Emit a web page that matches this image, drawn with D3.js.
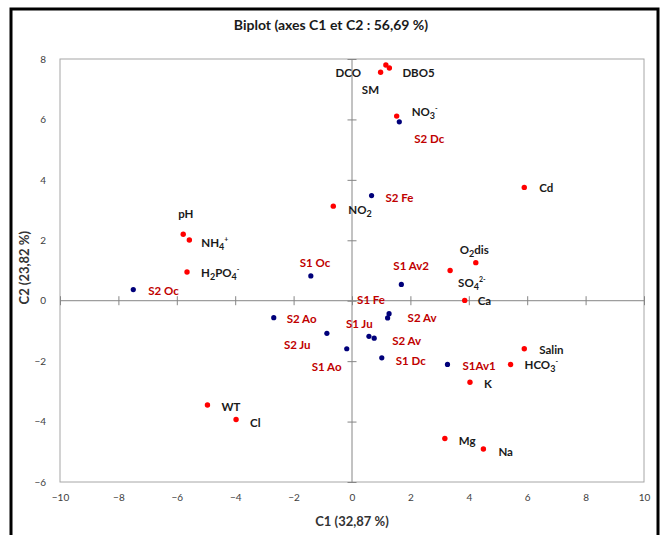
<!DOCTYPE html>
<html>
<head>
<meta charset="utf-8">
<script src="https://cdn.jsdelivr.net/npm/d3@7"></script>
<style>
  body { margin: 0; background: #fff; }
  text { font-family: Lato, "Open Sans", sans-serif; }
</style>
</head>
<body>
<div id="chart"></div>
<script>
// variables (red points)
let varNames = ["DCO", "DBO5", "SM", "NO_{3}^{-}", "NO_{2}", "pH", "NH_{4}^{+}", "H_{2}PO_{4}^{-}",
                "Cd", "O_{2}dis", "SO_{4}^{2-}", "Ca", "Salin", "HCO_{3}^{-}", "K", "Mg", "Na", "WT", "Cl"]
let varC1 = [0.98, 1.28, 1.16, 1.53, -0.64, -5.78, -5.57, -5.65, 5.90, 4.24, 3.36, 3.86, 5.90, 5.43, 4.04, 3.18, 4.50, -4.95, -3.97]
let varC2 = [7.56, 7.70, 7.80, 6.11, 3.13, 2.20, 2.01, 0.95, 3.75, 1.26, 1.00, 0.01, -1.59, -2.11, -2.70, -4.56, -4.91, -3.45, -3.93]

// observations (blue points)
let obsNames = ["S2 Dc", "S2 Fe", "S1 Av2", "S1 Fe", "S2 Oc", "S1 Oc", "S2 Ao", "S2 Ju", "S1 Ao",
                "S1 Ju", "S2 Av", "S2 Av", "S1 Dc", "S1Av1"]
let obsC1 = [1.62, 0.67, 1.69, 1.27, -7.49, -1.41, -2.68, -0.86, -0.18, 0.58, 1.22, 0.76, 1.02, 3.27]
let obsC2 = [5.92, 3.48, 0.54, -0.43, 0.37, 0.82, -0.56, -1.08, -1.59, -1.18, -0.57, -1.24, -1.89, -2.11]

let xTicks = d3.range(-10, 11, 2)
let yTicks = d3.range(-6, 9, 2)

// label offsets (px) from their point, like dragged labels in the sheet
let varLabelOffset = [[-45, 1], [13, 5], [-24, 25], [15, -4], [15, 4], [-5, -20], [12, 3], [14, 1],
                      [15, 1], [-16, -13], [8, 12], [13, 1], [15, 1], [14, 1], [14, 2], [14, 3], [15, 3], [14, 2], [14, 4]]
let obsLabelOffset = [[15, 17], [14, 2], [-8, -18], [-32, -14], [15, 1], [-11, -13], [13, 1], [-43, 12],
                      [-35, 18], [-23, -12], [20, 0], [18, 3], [14, 3], [15, 2]]

let W = 662, H = 535
let margin = {top: 59, right: 18, bottom: 53, left: 60}
let plotW = 644 - margin.left,
    plotH = 482 - margin.top

let svg = d3.select("#chart")
  .append("svg")
    .attr("width", W)
    .attr("height", H)

// outer chart frame
svg.append("rect")
  .attr("x", 11).attr("y", 9)
  .attr("width", 647).attr("height", 560)
  .attr("fill", "none")
  .attr("stroke", "#000")
  .attr("stroke-width", 3)

svg.append("text")
  .attr("x", 331).attr("y", 30)
  .attr("text-anchor", "middle")
  .style("font-size", "14px")
  .style("font-weight", "bold")
  .attr("fill", "#1a1a1a")
  .text("Biplot (axes C1 et C2 : 56,69 %)")

let g = svg.append("g")
  .attr("transform", "translate(" + margin.left + "," + margin.top + ")")

let x = d3.scaleLinear().domain([-10, 10]).range([0, plotW])
let y = d3.scaleLinear().domain([-6, 8]).range([plotH, 0])

// plot area border
g.append("rect")
  .attr("width", plotW).attr("height", plotH)
  .attr("fill", "none")
  .attr("stroke", "#a6a6a6")
  .attr("stroke-width", 1)

// tick labels on the outside (low position)
g.append("g")
  .attr("transform", "translate(0," + plotH + ")")
  .call(d3.axisBottom(x).tickValues(xTicks).tickSize(0).tickPadding(12))
  .call(a => a.select(".domain").remove())
  .selectAll("text")
    .style("font-size", "10px")
    .style("font-family", "Lato, sans-serif")
    .attr("fill", "#404040")

g.append("g")
  .call(d3.axisLeft(y).tickValues(yTicks).tickSize(0).tickPadding(14))
  .call(a => a.select(".domain").remove())
  .selectAll("text")
    .style("font-size", "10px")
    .style("font-family", "Lato, sans-serif")
    .attr("fill", "#404040")

// zero axes with crossing ticks
g.append("line")
  .attr("x1", x(0)).attr("x2", x(0))
  .attr("y1", 0).attr("y2", plotH)
  .attr("stroke", "#868686")
g.append("line")
  .attr("x1", 0).attr("x2", plotW)
  .attr("y1", y(0)).attr("y2", y(0))
  .attr("stroke", "#868686")

g.append("g")
  .attr("transform", "translate(" + (x(0) + 4.5) + ",0)")
  .call(d3.axisLeft(y).tickValues(yTicks).tickSize(9).tickFormat(""))
  .call(a => a.select(".domain").remove())
  .selectAll("line").attr("stroke", "#868686")

g.append("g")
  .attr("transform", "translate(0," + (y(0) - 4.5) + ")")
  .call(d3.axisBottom(x).tickValues(xTicks).tickSize(9).tickFormat(""))
  .call(a => a.select(".domain").remove())
  .selectAll("line").attr("stroke", "#868686")

// axis titles
svg.append("text")
  .attr("x", margin.left + x(0)).attr("y", 526)
  .attr("text-anchor", "middle")
  .style("font-size", "13px")
  .style("font-weight", "bold")
  .attr("fill", "#333")
  .text("C1 (32,87 %)")

svg.append("text")
  .attr("transform", "translate(29," + (margin.top + y(0) - 33) + ") rotate(-90)")
  .attr("text-anchor", "middle")
  .style("font-size", "13px")
  .style("font-weight", "bold")
  .attr("fill", "#333")
  .text("C2 (23,82 %)")

// write a label with _{sub} and ^{sup} parts
function richText(sel, str) {
  let re = /([_^])\{([^}]*)\}/g, last = 0, shift = 0, m
  while ((m = re.exec(str))) {
    if (m.index > last) {
      sel.append("tspan").attr("dy", -shift).text(str.slice(last, m.index))
      shift = 0
    }
    let target = m[1] == "_" ? 3 : -5
    sel.append("tspan")
      .attr("dy", target - shift)
      .style("font-size", m[1] == "_" ? "9px" : "7px")
      .text(m[2])
    shift = target
    last = re.lastIndex
  }
  if (last < str.length) {
    sel.append("tspan").attr("dy", -shift).text(str.slice(last))
  }
}

let vars = varNames.map((n, i) => ({name: n, c1: varC1[i], c2: varC2[i], off: varLabelOffset[i]}))
let obs = obsNames.map((n, i) => ({name: n, c1: obsC1[i], c2: obsC2[i], off: obsLabelOffset[i]}))

g.selectAll(".obs")
  .data(obs)
  .enter()
  .append("circle")
    .attr("class", "obs")
    .attr("cx", d => x(d.c1))
    .attr("cy", d => y(d.c2))
    .attr("r", 2.6)
    .attr("fill", "#00007a")

g.selectAll(".var")
  .data(vars)
  .enter()
  .append("circle")
    .attr("class", "var")
    .attr("cx", d => x(d.c1))
    .attr("cy", d => y(d.c2))
    .attr("r", 2.7)
    .attr("fill", "#ff0000")

g.selectAll(".obslab")
  .data(obs)
  .enter()
  .append("text")
    .attr("class", "obslab")
    .attr("x", d => x(d.c1) + d.off[0])
    .attr("y", d => y(d.c2) + d.off[1] + 4)
    .style("font-size", "11.5px")
    .style("font-weight", "bold")
    .attr("fill", "#c00000")
    .text(d => d.name)

g.selectAll(".varlab")
  .data(vars)
  .enter()
  .append("text")
    .attr("class", "varlab")
    .attr("x", d => x(d.c1) + d.off[0])
    .attr("y", d => y(d.c2) + d.off[1] + 4)
    .style("font-size", "11.5px")
    .style("font-weight", "bold")
    .attr("fill", "#1a1a1a")
    .each(function(d) { richText(d3.select(this), d.name) })
</script>
</body>
</html>
